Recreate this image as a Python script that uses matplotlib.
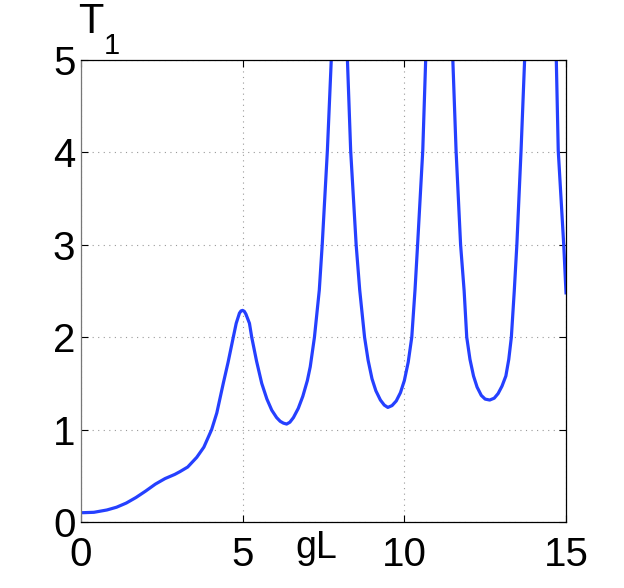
import matplotlib
matplotlib.use("Agg")
import matplotlib.pyplot as plt

# Data (values above 5 are clipped by the axes)
gL = [0.0, 0.4, 0.8, 1.1, 1.4, 1.7, 2.0, 2.3, 2.6, 2.9, 3.06, 3.3, 3.58, 3.8,
      4.04, 4.2, 4.40, 4.55, 4.71, 4.80, 4.9, 4.95, 5.0, 5.05, 5.1, 5.21,
      5.28, 5.43, 5.59, 5.75, 5.90, 6.05, 6.16, 6.26, 6.36, 6.46, 6.57, 6.72,
      6.86, 7.0, 7.09, 7.22, 7.37, 7.46, 7.62, 7.74, 8.0, 8.24, 8.34, 8.51,
      8.62, 8.77, 8.88, 9.0, 9.12, 9.26, 9.38, 9.49, 9.62, 9.75, 9.88, 10.0,
      10.12, 10.23, 10.33, 10.41, 10.57, 10.66, 11.08, 11.50, 11.60, 11.74,
      11.85, 11.93, 12.03, 12.14, 12.25, 12.38, 12.5, 12.64, 12.78, 12.9,
      13.02, 13.14, 13.23, 13.31, 13.40, 13.48, 13.61, 13.72, 14.21, 14.70,
      14.76, 14.93, 15.0]
T1 = [0.10, 0.105, 0.13, 0.16, 0.205, 0.265, 0.335, 0.41, 0.47, 0.515, 0.545,
      0.595, 0.70, 0.81, 1.0, 1.18, 1.50, 1.73, 2.00, 2.15, 2.26, 2.285, 2.29,
      2.28, 2.25, 2.15, 2.00, 1.74, 1.50, 1.33, 1.21, 1.13, 1.09, 1.07, 1.06,
      1.08, 1.13, 1.23, 1.36, 1.53, 1.68, 2.0, 2.51, 3.0, 4.02, 5.0, 6.8, 5.0,
      4.02, 3.0, 2.51, 2.0, 1.75, 1.55, 1.42, 1.32, 1.265, 1.24, 1.26, 1.31,
      1.40, 1.53, 1.73, 2.0, 2.51, 3.0, 4.02, 5.0, 6.8, 5.0, 4.02, 3.0, 2.5,
      2.0, 1.76, 1.58, 1.46, 1.37, 1.33, 1.32, 1.34, 1.39, 1.47, 1.58, 1.76,
      2.0, 2.5, 3.0, 4.02, 5.0, 6.8, 5.0, 4.02, 3.0, 2.48]
xticks = [0, 5, 10, 15]
yticks = [0, 1, 2, 3, 4, 5]

plt.rcParams['font.family'] = ['Liberation Sans', 'DejaVu Sans']

W, H = 624, 588
fig = plt.figure(figsize=(W / 100, H / 100), dpi=100)
ax = fig.add_axes([81 / W, 1 - 522 / H, 485 / W, 462 / H])

ax.plot(gL, T1, color='#2540ff', linewidth=2.3, solid_joinstyle='round')
ax.set_xlim(0, 15)
ax.set_ylim(0, 5)
ax.set_xticks(xticks)
ax.set_yticks(yticks)
ax.set_xticklabels([str(v) for v in xticks], fontsize=29)
ax.set_yticklabels([str(v) for v in yticks], fontsize=29)
ax.tick_params(direction='in', length=5, width=0.8, top=True, right=True)
ax.tick_params(axis='x', pad=10)
ax.tick_params(axis='y', pad=4)
ax.grid(True, color='#999999', linestyle=(0, (1, 4)), linewidth=0.8)
for s in ax.spines.values():
    s.set_linewidth(0.9)
ax.spines['left'].set_color('#777777')

fig.text(78 / W, 1 - 33 / H, 'T', fontsize=30, ha='left', va='baseline')
fig.text(104 / W, 1 - 54 / H, '1', fontsize=21, ha='left', va='baseline')
fig.text(295 / W, 1 - 558 / H, 'gL', fontsize=27, ha='left', va='baseline')

fig.savefig('out.png', dpi=100)
